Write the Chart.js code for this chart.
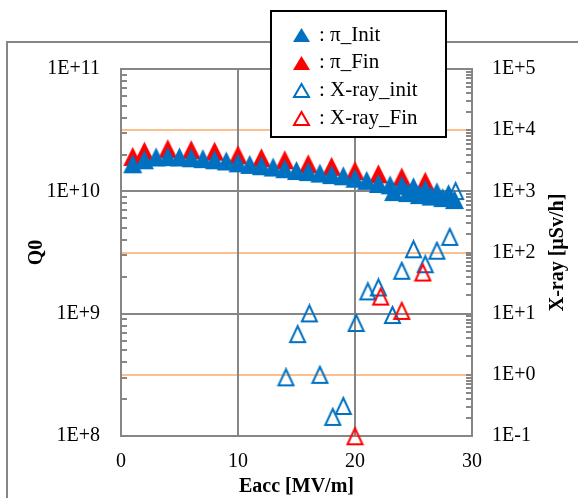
<!DOCTYPE html>
<html>
<head>
<meta charset="utf-8">
<script src="https://cdn.jsdelivr.net/npm/chart.js@4.4.1/dist/chart.umd.min.js"></script>
<style>
  html, body { margin: 0; padding: 0; background: #fff; }
</style>
</head>
<body>
<canvas id="q0Chart" width="578" height="498"></canvas>
<script>
// Q0 vs Eacc, initial measurement
const eaccInit = [1, 2, 3, 4, 5, 6, 7, 8, 9, 10, 11, 12, 13, 14, 15, 16, 17, 18, 19, 20,
                  21, 22, 23, 24, 25, 26, 27, 28, 23.3, 24.5, 25.5, 26.5, 27.5, 28.5];
const q0Init = [1.68e10, 1.81e10, 1.91e10, 1.92e10, 1.91e10, 1.88e10, 1.85e10, 1.81e10, 1.77e10, 1.71e10,
                1.66e10, 1.62e10, 1.58e10, 1.53e10, 1.48e10, 1.45e10, 1.41e10, 1.37e10, 1.34e10, 1.28e10,
                1.23e10, 1.16e10, 1.13e10, 1.12e10, 1.09e10, 1.04e10, 9.9e9, 9.57e9,
                9.95e9, 9.76e9, 9.4e9, 9.14e9, 8.89e9, 8.56e9];

// Q0 vs Eacc, final measurement
const eaccFin = [1, 2, 4, 6, 8, 10, 12, 14, 16, 18, 20, 22, 24, 26];
const q0Fin = [1.93e10, 2.13e10, 2.23e10, 2.19e10, 2.13e10, 1.99e10, 1.88e10, 1.81e10, 1.68e10, 1.6e10,
               1.48e10, 1.39e10, 1.31e10, 1.21e10];

// X-ray dose rate [uSv/h]
const eaccXrayInit = [14.1, 15.1, 16.1, 17.0, 18.1, 19.0, 20.1, 21.1, 22.0, 23.2, 24.0, 25.0, 26.0, 27.0, 28.1, 28.6];
const xrayInit = [0.91, 4.62, 10.1, 1.0, 0.205, 0.31, 7.05, 23.1, 26.8, 9.5, 50.2, 113, 64.4, 107, 180, 1010];
const eaccXrayFin = [20.0, 22.2, 24.0, 25.8];
const xrayFin = [0.099, 19, 11.1, 47];

// axes
const eaccTicks = [0, 10, 20, 30];
const q0TickValues = [1e8, 1e9, 1e10, 1e11];
const q0TickLabels = ['1E+8', '1E+9', '1E+10', '1E+11'];
const xrayTickValues = [0.1, 1, 10, 100, 1000, 10000, 100000];
const xrayTickLabels = ['1E-1', '1E+0', '1E+1', '1E+2', '1E+3', '1E+4', '1E+5'];
const seriesNames = ['π_Init', 'π_Fin', 'X-ray_init', 'X-ray_Fin'];

const BLUE = '#0070C0';
const RED = '#FF0000';
const GRAY = '#868686';
const ORANGE = '#FAC090';
const serif = '"Liberation Serif", "Times New Roman", serif';

function toPoints(xs, ys) {
    return xs.map((x, i) => ({ x: x, y: ys[i] }));
}

// triangle marker as a small canvas, centred on the point by Chart.js
function triangle(w, h, fill, stroke) {
    const m = 2;
    const c = document.createElement('canvas');
    c.width = w + 2 * m;
    c.height = h + 2 * m;
    const g = c.getContext('2d');
    g.beginPath();
    g.moveTo(c.width / 2, m);
    g.lineTo(c.width - m, c.height - m);
    g.lineTo(m, c.height - m);
    g.closePath();
    if (fill) { g.fillStyle = fill; g.fill(); }
    if (stroke) { g.strokeStyle = stroke; g.lineWidth = 2; g.stroke(); }
    return c;
}

const marks = [
    triangle(19, 19, BLUE, null),
    triangle(19, 19, RED, null),
    triangle(15, 16, null, BLUE),
    triangle(15, 16, null, RED)
];
const legendMarks = [
    triangle(17, 14, BLUE, null),
    triangle(17, 14, RED, null),
    triangle(15, 13, null, BLUE),
    triangle(15, 13, null, RED)
];

// outer frame + white background
const frame = {
    id: 'frame',
    beforeDraw(chart) {
        const c = chart.ctx;
        c.save();
        c.fillStyle = '#fff';
        c.fillRect(0, 0, chart.width, chart.height);
        c.strokeStyle = GRAY;
        c.lineWidth = 2;
        c.strokeRect(7, 42, chart.width + 50, chart.height + 50);
        c.restore();
    }
};

// small inward ticks between the decades on both log axes
const minorTicks = {
    id: 'minorTicks',
    beforeDatasetsDraw(chart) {
        const c = chart.ctx;
        const area = chart.chartArea;
        c.save();
        c.strokeStyle = GRAY;
        c.lineWidth = 2;
        [['y', area.left, 6], ['y2', area.right, -6]].forEach(([id, x0, len]) => {
            const s = chart.scales[id];
            const lo = Math.round(Math.log10(s.min));
            const hi = Math.round(Math.log10(s.max));
            for (let d = lo; d < hi; d++) {
                for (let k = 1; k <= 9; k++) {
                    const py = Math.round(s.getPixelForValue(k * Math.pow(10, d)));
                    c.beginPath();
                    c.moveTo(x0, py);
                    c.lineTo(x0 + len, py);
                    c.stroke();
                }
            }
        });
        c.restore();
    }
};

// right axis title reads bottom to top, like the left one
const rightTitle = {
    id: 'rightTitle',
    afterDraw(chart) {
        const c = chart.ctx;
        c.save();
        c.translate(558, (chart.chartArea.top + chart.chartArea.bottom) / 2);
        c.rotate(-Math.PI / 2);
        c.font = 'bold 20px ' + serif;
        c.fillStyle = '#000';
        c.textAlign = 'center';
        c.textBaseline = 'middle';
        c.fillText('X-ray [µSv/h]', 0, 0);
        c.restore();
    }
};

// boxed legend overlapping the top of the frame
const legendBox = {
    id: 'legendBox',
    afterDraw(chart) {
        const c = chart.ctx;
        c.save();
        c.fillStyle = '#fff';
        c.fillRect(271, 11, 175, 126);
        c.strokeStyle = '#000';
        c.lineWidth = 2;
        c.strokeRect(271, 11, 175, 126);
        c.font = '21px ' + serif;
        c.fillStyle = '#000';
        c.textBaseline = 'middle';
        chart.data.datasets.forEach((ds, i) => {
            const y = 35 + i * 27.7;
            const m = legendMarks[i];
            c.drawImage(m, Math.round(301 - m.width / 2), Math.round(y - m.height / 2));
            c.fillText(': ' + ds.label, 319, y);
        });
        c.restore();
    }
};

const tickFont = { family: serif, size: 20 };
const titleFont = { family: serif, size: 20, weight: 'bold', lineHeight: 1.1 };

new Chart(document.getElementById('q0Chart'), {
    type: 'scatter',
    data: {
        datasets: [
            { label: seriesNames[0], data: toPoints(eaccInit, q0Init), yAxisID: 'y',
              pointStyle: marks[0], order: 1, clip: false },
            { label: seriesNames[1], data: toPoints(eaccFin, q0Fin), yAxisID: 'y',
              pointStyle: marks[1], order: 2, clip: false },
            { label: seriesNames[2], data: toPoints(eaccXrayInit, xrayInit), yAxisID: 'y2',
              pointStyle: marks[2], order: 0, clip: false },
            { label: seriesNames[3], data: toPoints(eaccXrayFin, xrayFin), yAxisID: 'y2',
              pointStyle: marks[3], order: -1, clip: false }
        ]
    },
    options: {
        responsive: false,
        animation: false,
        events: [],
        layout: { padding: { top: 69, left: 0, right: 0, bottom: 0 } },
        plugins: {
            legend: { display: false },
            tooltip: { enabled: false }
        },
        scales: {
            x: {
                type: 'linear',
                position: 'bottom',
                min: 0,
                max: 30,
                afterBuildTicks: s => { s.ticks = eaccTicks.map(v => ({ value: v })); },
                afterFit: s => { s.height = 62; },
                grid: { color: GRAY, lineWidth: 2, drawTicks: false },
                border: { color: GRAY, width: 2 },
                ticks: { color: '#000', font: tickFont, padding: 14, maxRotation: 0, autoSkip: false },
                title: { display: true, text: 'Eacc [MV/m]', color: '#000', font: titleFont,
                         padding: { top: 0, bottom: 0 } }
            },
            y: {
                type: 'logarithmic',
                position: 'left',
                min: 1e8,
                max: 1e11,
                afterBuildTicks: s => { s.ticks = q0TickValues.map(v => ({ value: v })); },
                afterFit: s => { s.width = 121; },
                grid: { color: GRAY, lineWidth: 2, drawTicks: false },
                border: { color: GRAY, width: 2 },
                ticks: { color: '#000', font: tickFont, padding: 21, autoSkip: false,
                         callback: (v, i) => q0TickLabels[i] },
                title: { display: true, text: 'Q0', color: '#000', font: titleFont,
                         padding: { top: 26, bottom: 0 } }
            },
            y2: {
                type: 'logarithmic',
                position: 'right',
                min: 0.1,
                max: 1e5,
                afterBuildTicks: s => { s.ticks = xrayTickValues.map(v => ({ value: v })); },
                afterFit: s => { s.width = 106; },
                grid: {
                    z: -2,
                    lineWidth: 2,
                    drawTicks: false,
                    color: c => (c.tick && Math.round(Math.log10(c.tick.value)) % 2 === 0) ? ORANGE : 'rgba(0,0,0,0)'
                },
                border: { color: GRAY, width: 2 },
                ticks: { color: '#000', font: tickFont, padding: 20, autoSkip: false,
                         callback: (v, i) => xrayTickLabels[i] }
            }
        }
    },
    plugins: [frame, minorTicks, rightTitle, legendBox]
});
</script>
</body>
</html>
